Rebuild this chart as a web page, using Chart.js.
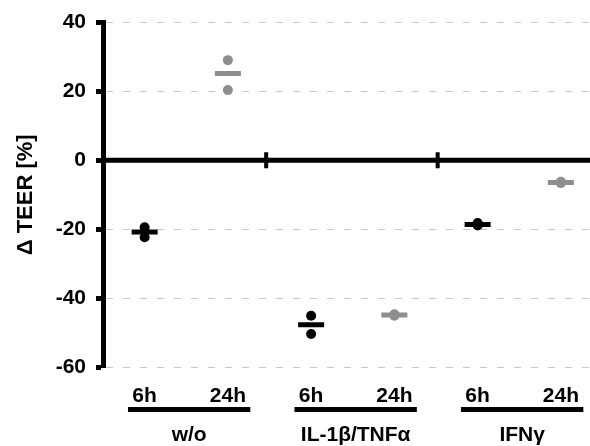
<!DOCTYPE html>
<html>
<head>
<meta charset="utf-8">
<script src="https://cdn.jsdelivr.net/npm/chart.js@4.4.1/dist/chart.umd.min.js"></script>
<style>
  body { margin: 0; background: #fff; }
</style>
</head>
<body>
<canvas id="myChart" width="590" height="446"></canvas>
<script>
// Daten
const timeLabels = ['6h', '24h', '6h', '24h', '6h', '24h'];
const groupLabels = ['w/o', 'IL-1β/TNFα', 'IFNγ'];
const xSixH = [1, 3, 5];
const xTwentyFourH = [2, 4, 6];
const sixH = [[-19.4, -22.3], [-45.1, -50.4], [-18.2, -18.9]];
const twentyFourH = [[29.1, 20.4], [-44.7, -45.1], [-6.2, -6.6]];
const sixHMean = [-20.8, -47.7, -18.6];
const twentyFourHMean = [25.2, -44.9, -6.4];
const separators = [2.46, 4.52];
const yTicks = [-60, -40, -20, 0, 20, 40];

const X_MIN = 0.5, X_MAX = 6.35;
const BLACK = '#000000';
const GREY = '#8e8e8e';
const FONT = "'Liberation Sans', Arial, sans-serif";

Chart.defaults.font.family = FONT;
Chart.defaults.font.weight = 'bold';
Chart.defaults.color = BLACK;

// Punkte aus den Arrays bauen
function points(xs, groups) {
  const out = [];
  groups.forEach((vals, i) => vals.forEach(v => out.push({ x: xs[i], y: v })));
  return out;
}
function meanPoints(xs, vals) {
  return vals.map((v, i) => ({ x: xs[i], y: v }));
}

// Unterstriche + Gruppennamen unter der x-Achse
const groupPlugin = {
  id: 'groups',
  afterDraw(chart) {
    const { ctx } = chart;
    const xs = chart.scales.x;
    ctx.save();
    groupLabels.forEach((g, i) => {
      const x1 = xs.getPixelForValue(xSixH[i] - 0.2);
      const x2 = xs.getPixelForValue(xTwentyFourH[i] + 0.27);
      ctx.fillStyle = BLACK;
      ctx.fillRect(x1, 407, x2 - x1, 5);
      ctx.font = 'bold 21px ' + FONT;
      ctx.textAlign = 'center';
      ctx.textBaseline = 'middle';
      ctx.fillText(g, (x1 + x2) / 2, 435);
    });
    ctx.restore();
  }
};

const config = {
  data: {
    datasets: [
      {
        type: 'line',
        data: [{ x: X_MIN, y: 0 }, { x: X_MAX, y: 0 }],
        borderColor: BLACK,
        borderWidth: 5,
        pointRadius: 0
      },
      {
        type: 'scatter',
        data: separators.map(x => ({ x: x, y: 0 })),
        pointStyle: 'line',
        rotation: 90,
        radius: 8,
        borderWidth: 4,
        borderColor: BLACK
      },
      {
        type: 'scatter',
        data: points(xSixH, sixH),
        pointStyle: 'circle',
        radius: 5,
        borderWidth: 0,
        backgroundColor: BLACK
      },
      {
        type: 'scatter',
        data: points(xTwentyFourH, twentyFourH),
        pointStyle: 'circle',
        radius: 5,
        borderWidth: 0,
        backgroundColor: GREY
      },
      {
        type: 'scatter',
        data: meanPoints(xSixH, sixHMean),
        pointStyle: 'line',
        radius: 13,
        borderWidth: 5,
        borderColor: BLACK
      },
      {
        type: 'scatter',
        data: meanPoints(xTwentyFourH, twentyFourHMean),
        pointStyle: 'line',
        radius: 13,
        borderWidth: 5,
        borderColor: GREY
      }
    ]
  },
  options: {
    responsive: false,
    animation: false,
    layout: { autoPadding: false, padding: { top: 22, left: 9, right: 0, bottom: 42 } },
    plugins: {
      legend: { display: false },
      tooltip: { enabled: false }
    },
    scales: {
      x: {
        type: 'linear',
        min: X_MIN,
        max: X_MAX,
        afterBuildTicks: s => { s.ticks = [1, 2, 3, 4, 5, 6].map(v => ({ value: v })); },
        afterFit: s => { s.height = 37; s.paddingLeft = 0; s.paddingRight = 0; },
        grid: { display: false, drawTicks: false },
        border: { display: false },
        ticks: {
          autoSkip: false,
          maxRotation: 0,
          padding: 17,
          font: { size: 21, weight: 'bold' },
          callback: v => timeLabels[v - 1]
        }
      },
      y: {
        min: -60,
        max: 40,
        afterBuildTicks: s => { s.ticks = yTicks.map(v => ({ value: v })); },
        afterFit: s => { s.width = 94; },
        border: { display: true, color: BLACK, width: 5, dash: [7, 10] },
        grid: {
          color: c => (c.tick && c.tick.value === 0) ? 'rgba(0,0,0,0)' : '#c8c8c8',
          lineWidth: 1,
          tickColor: BLACK,
          tickLength: 7,
          tickWidth: 5
        },
        ticks: {
          padding: 10,
          font: { size: 21, weight: 'bold' }
        },
        title: {
          display: true,
          text: 'Δ TEER [%]',
          font: { size: 22, weight: 'bold' }
        }
      }
    }
  },
  plugins: [groupPlugin]
};

new Chart(document.getElementById('myChart'), config);
</script>
</body>
</html>
